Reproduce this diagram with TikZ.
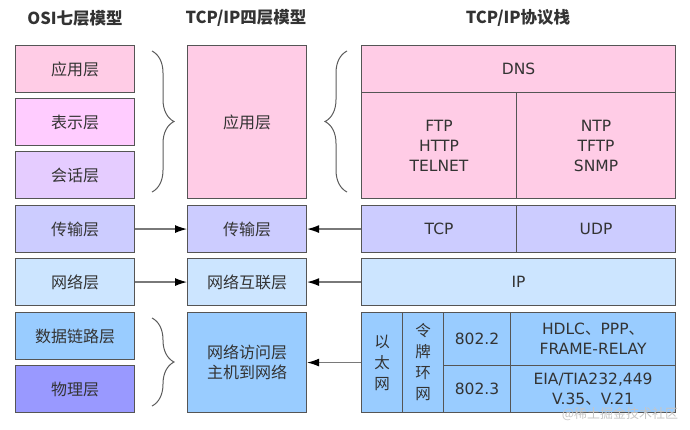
\documentclass[tikz,border=0pt]{standalone}
\usepackage{fontspec}
\setmainfont{DejaVu Sans}
\newfontfamily\cjk{Noto Sans CJK SC}
\usetikzlibrary{arrows.meta,decorations.pathreplacing}

\definecolor{appcol}{HTML}{FFCCE6}
\definecolor{prescol}{HTML}{FFCCFF}
\definecolor{sesscol}{HTML}{E5CCFF}
\definecolor{transcol}{HTML}{CCCCFF}
\definecolor{netcol}{HTML}{CCE5FF}
\definecolor{linkcol}{HTML}{99CCFF}
\definecolor{physcol}{HTML}{9999FF}
\definecolor{edgegray}{HTML}{555555}
\definecolor{textgray}{HTML}{333333}

\tikzset{
  layer/.style={draw=edgegray, line width=1.1pt, text=textgray, anchor=north west,
    inner sep=0pt, align=center, font=\cjk\fontsize{16}{20}\selectfont},
  proto/.style={layer, font=\fontsize{15.5}{20}\selectfont},
  title/.style={text=textgray, font=\cjk\bfseries\fontsize{16.5}{18}\selectfont},
  link/.style={->, >={Latex[length=12pt,width=8pt,color=black]}, draw=gray!95!black, line width=1.2pt},
  bracket/.style={decorate, decoration={brace, amplitude=22pt}, draw=textgray!80, line width=1pt}
}

\begin{document}
\begin{tikzpicture}[x=1pt, y=-1pt]
\useasboundingbox (0,0) rectangle (690,429);
% titles
\node[title] (osititle) at (75,18) {OSI七层模型};
\node[title] (tcptitle) at (246,18) {TCP/IP四层模型};
\node[title] (stacktitle) at (518,18) {TCP/IP协议栈};
% OSI column
\node[layer, fill=appcol, minimum width=119pt, minimum height=47pt] (osiapp) at (15,45) {应用层};
\node[layer, fill=prescol, minimum width=119pt, minimum height=47pt] (osipres) at (15,98) {表示层};
\node[layer, fill=sesscol, minimum width=119pt, minimum height=47pt] (osisess) at (15,151) {会话层};
\node[layer, fill=transcol, minimum width=119pt, minimum height=47pt] (ositrans) at (15,205) {传输层};
\node[layer, fill=netcol, minimum width=119pt, minimum height=47pt] (osinet) at (15,258) {网络层};
\node[layer, fill=linkcol, minimum width=119pt, minimum height=47pt] (osilink) at (15,312) {数据链路层};
\node[layer, fill=physcol, minimum width=119pt, minimum height=47pt] (osiphys) at (15,365) {物理层};
% TCP/IP column
\node[layer, fill=appcol, minimum width=119pt, minimum height=153pt] (tcpapp) at (187,45) {应用层};
\node[layer, fill=transcol, minimum width=119pt, minimum height=47pt] (tcptrans) at (187,205) {传输层};
\node[layer, fill=netcol, minimum width=119pt, minimum height=47pt] (tcpnet) at (187,258) {网络互联层};
\node[layer, fill=linkcol, minimum width=119pt, minimum height=100pt] (tcpacc) at (187,312) {网络访问层\\主机到网络};
% protocol stack
\node[proto, fill=appcol, minimum width=314pt, minimum height=47pt] (dns) at (361,45) {DNS};
\node[proto, fill=appcol, minimum width=155pt, minimum height=106pt] (ftp) at (361,92) {FTP\\HTTP\\TELNET};
\node[proto, fill=appcol, minimum width=159pt, minimum height=106pt] (ntp) at (516,92) {NTP\\TFTP\\SNMP};
\node[proto, fill=transcol, minimum width=155pt, minimum height=47pt] (tcp) at (361,205) {TCP};
\node[proto, fill=transcol, minimum width=159pt, minimum height=47pt] (udp) at (516,205) {UDP};
\node[proto, fill=netcol, minimum width=314pt, minimum height=47pt] (ip) at (361,258) {IP};
\node[layer, fill=linkcol, minimum width=41pt, minimum height=100pt, font=\cjk\fontsize{15.5}{21}\selectfont] (eth) at (361,312) {以\\太\\网};
\node[layer, fill=linkcol, minimum width=41pt, minimum height=100pt, font=\cjk\fontsize{15.5}{21}\selectfont] (ring) at (402,312) {令\\牌\\环\\网};
\node[proto, fill=linkcol, minimum width=67pt, minimum height=53pt] (llc) at (443,312) {802.2};
\node[proto, fill=linkcol, minimum width=67pt, minimum height=47pt] (mac) at (443,365) {802.3};
\node[proto, fill=linkcol, minimum width=165pt, minimum height=53pt] (hdlc) at (510,312) {HDLC{\cjk 、}PPP{\cjk 、}\\FRAME-RELAY};
\node[proto, fill=linkcol, minimum width=165pt, minimum height=47pt] (eia) at (510,365) {EIA/TIA232,449\\V.35{\cjk 、}V.21};
% arrows
\draw[link] (ositrans) -- (tcptrans);
\draw[link] (osinet) -- (tcpnet);
\draw[link] (tcp.west) -- (tcptrans.east);
\draw[link] (ip.west) -- (tcpnet.east);
\draw[link] (eth.west) -- (tcpacc.east);
% braces
\draw[bracket] (152,51) -- (152,192);
\draw[bracket] (347,192) -- (347,51);
\draw[bracket] (152,318) -- (152,406);
% watermark
\node[text=gray!45, font=\cjk\fontsize{13}{15}\selectfont] (mark) at (620,414) {@稀土掘金技术社区};
\end{tikzpicture}
\end{document}
